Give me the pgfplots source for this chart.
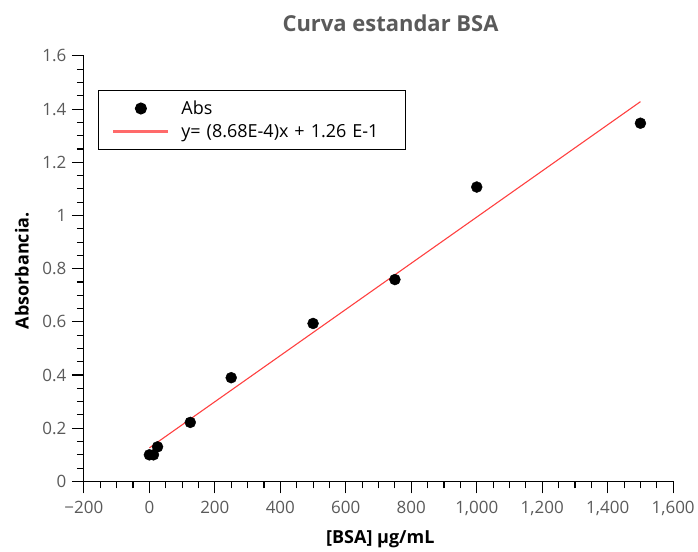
\documentclass[border=0pt]{standalone}
\usepackage{pgfplots}
\pgfplotsset{compat=1.18}
\usepackage{fontspec}
\setmainfont{Open Sans}
\definecolor{ticktext}{HTML}{5A5A5A}
\definecolor{fitred}{HTML}{FF4040}
\definecolor{fitpink}{HTML}{FF6A6A}

\pgfplotsset{
  abs dot image/.style={legend image code/.code={\draw[mark repeat=2,mark phase=2,##1]
    plot coordinates {(0pt,0pt)(27pt,0pt)(54pt,0pt)};}},
  fit line image/.style={legend image code/.code={%
    \fill[fitpink] (0pt,-0.9pt) rectangle (54pt,0.9pt);}},
}

\begin{document}
\begin{tikzpicture}[x=1pt,y=1pt]
\begin{axis}[
  scale only axis,
  width=590pt, height=426pt,
  xmin=-200, xmax=1600, ymin=0, ymax=1.6,
  axis lines=left,
  axis line style={-, line width=1.1pt},
  tick align=outside,
  major tick length=12pt,
  minor tick length=7pt,
  every tick/.style={black, line width=1.1pt},
  xtick={-200,0,200,400,600,800,1000,1200,1400,1600},
  xticklabels={−200,0,200,400,600,800,{1,000},{1,200},{1,400},{1,600}},
  ytick={0,0.2,0.4,0.6,0.8,1,1.2,1.4,1.6},
  yticklabels={0,0.2,0.4,0.6,0.8,1,1.2,1.4,1.6},
  minor x tick num=3,
  minor y tick num=3,
  ticklabel style={font=\fontsize{17}{20}\selectfont, text=ticktext},
  xticklabel style={yshift=-4pt},
  yticklabel style={xshift=-2pt},
  title={\bfseries Curva estandar BSA},
  title style={font=\fontsize{22}{26}\selectfont, text=ticktext, yshift=15pt, xshift=12pt},
  xlabel={\bfseries [BSA] μg/mL},
  ylabel={\bfseries Absorbancia.},
  label style={font=\fontsize{18}{21}\selectfont},
  xlabel style={at={(axis description cs:0.503,-0.136)}, anchor=center},
  ylabel style={at={(axis description cs:-0.105,0.495)}, anchor=center},
  legend cell align=left,
  legend style={at={(0.0237,0.92)}, anchor=north west,
    draw=black, fill=none, line width=1.1pt, font=\fontsize{18}{21}\selectfont,
    inner xsep=15pt, inner ysep=6.5pt, row sep=0pt, column sep=13pt,
    nodes={inner xsep=0pt, inner ysep=0pt, minimum height=23pt, text width=209pt}},
]
% measured absorbances of the BSA standards
\addplot[only marks, mark=*, mark size=5.5pt, black, abs dot image]
  coordinates {
  (0,0.100) (12.5,0.100) (25,0.130) (125,0.222) (250,0.390)
  (500,0.594) (750,0.759) (1000,1.107) (1500,1.347)
  };
\addlegendentry{Abs}
% least-squares fit
\addplot[fitred, line width=1.1pt, no marks, fit line image]
  coordinates {(0,0.126) (1500,1.428)};
\addlegendentry{y= (8.68E-4)x + 1.26 E-1}
\end{axis}
% fix the page to the full canvas around the axis
\path (current axis.south west) ++(-84pt,-66pt) rectangle ++(698pt,548pt);
\end{tikzpicture}
\end{document}
